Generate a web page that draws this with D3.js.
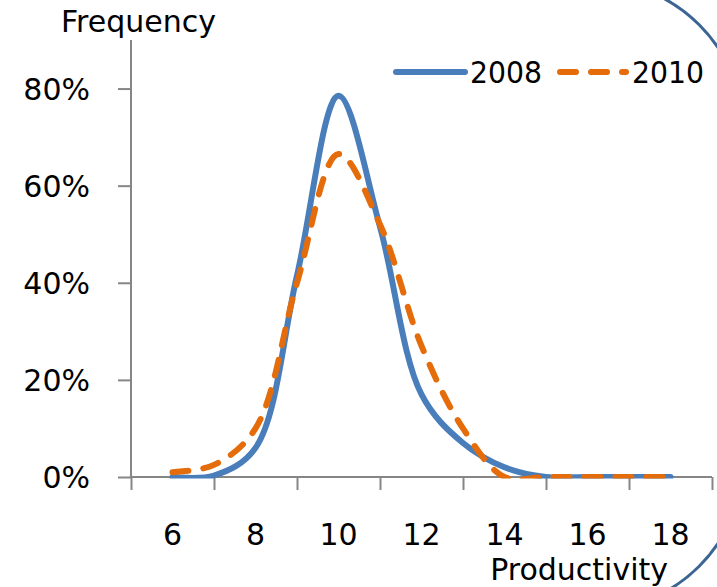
<!DOCTYPE html>
<html><head><meta charset="utf-8">
<script src="https://cdn.jsdelivr.net/npm/d3@7"></script>
<style>
html,body{margin:0;padding:0;background:#fff;}
svg{display:block;}
text{font-family:"DejaVu Sans",sans-serif;fill:#000;}
</style></head>
<body>
<script>
// ---- data ----
const productivity = [6,7,8,9,10,11,12,13,14,15,16,17,18];
const freq2008 = [0, 0.3, 6, 41.5, 78.5, 51.5, 17, 7, 2, 0, 0, 0, 0];
const freq2010 = [1, 2.5, 10, 40, 66.5, 52, 27, 10, 0, 0, 0, 0, 0];
const seriesNames = ["2008", "2010"];
const xTickLabels = [6, 8, 10, 12, 14, 16, 18];
const yTickValues = [0, 20, 40, 60, 80];

const W = 717, H = 587;
const svg = d3.select("body").append("svg").attr("width", W).attr("height", H);

const x = d3.scaleLinear().domain([5, 19]).range([131, 712]);
const y = d3.scaleLinear().domain([0, 90]).range([477, 40]);

const axisColor = "#868686";
const blue = "#4a7ebb", orange = "#e46c0a";
const FONT = "'DejaVu Sans',sans-serif";

// decorative frame
svg.append("rect").attr("x", -300).attr("y", -20).attr("width", 1044).attr("height", 631)
  .attr("rx", 153).attr("ry", 153).attr("fill", "none").attr("stroke", "#3c6594").attr("stroke-width", 3);

// clip for plot area (lines dipping below zero are cut, as in the original)
svg.append("clipPath").attr("id", "plotclip").append("rect")
  .attr("x", x(5) - 10).attr("y", y(90) - 10).attr("width", x(19) - x(5) + 20).attr("height", y(0) - y(90) + 11.5);

// y axis
const yAxis = d3.axisLeft(y).tickValues(yTickValues).tickSize(13).tickFormat(d => d + "%");
const gy = svg.append("g").attr("transform", "translate(131,0)").call(yAxis);
gy.select(".domain").attr("stroke", axisColor).attr("stroke-width", 2).attr("d", `M0,${y(90)}V${y(0)}`);
gy.selectAll(".tick line").attr("stroke", axisColor).attr("stroke-width", 2);
gy.selectAll(".tick text").attr("x", -41).attr("dy", "0.35em").attr("font-size", 30)
  .attr("font-family", FONT).attr("fill", "#000");

// x axis (ticks between categories)
const oddTicks = d3.range(5, 20, 2);
const xAxis = d3.axisBottom(x).tickValues(oddTicks).tickSize(13).tickFormat("");
const gx = svg.append("g").attr("transform", `translate(0,${y(0)})`).call(xAxis);
gx.select(".domain").attr("stroke", axisColor).attr("stroke-width", 2).attr("d", `M${x(5)},0H${x(19)}`);
gx.selectAll(".tick line").attr("stroke", axisColor).attr("stroke-width", 2);
svg.append("g").selectAll("text").data(xTickLabels).join("text")
  .attr("x", d => x(d)).attr("y", 534).attr("dy", "0.35em").attr("text-anchor", "middle")
  .attr("font-size", 30).text(d => d);

// lines
const line = d3.line().x((d, i) => x(productivity[i])).y(d => y(d)).curve(d3.curveCatmullRom.alpha(0.5));
const plot = svg.append("g").attr("clip-path", "url(#plotclip)");
plot.append("path").datum(freq2008).attr("d", line).attr("fill", "none").attr("stroke", blue)
  .attr("stroke-width", 6).attr("stroke-linecap", "round").attr("stroke-linejoin", "round");
plot.append("path").datum(freq2010).attr("d", line).attr("fill", "none").attr("stroke", orange)
  .attr("stroke-width", 6).attr("stroke-linecap", "round").attr("stroke-dasharray", "16,15");

// axis titles
svg.append("text").attr("x", 61).attr("y", 21).attr("dy", "0.35em").attr("font-size", 30).text("Frequency");
svg.append("text").attr("x", 668).attr("y", 569).attr("dy", "0.35em").attr("text-anchor", "end").attr("font-size", 30).text("Productivity");

// legend
const leg = svg.append("g");
const legItems = [
  {name: seriesNames[0], color: blue, dash: null, x0: 396, x1: 465, tx: 470},
  {name: seriesNames[1], color: orange, dash: "16,15", x0: 560, x1: 626, tx: 632}
];
legItems.forEach(it => {
  leg.append("line").attr("x1", it.x0).attr("x2", it.x1).attr("y1", 72).attr("y2", 72)
    .attr("stroke", it.color).attr("stroke-width", 6).attr("stroke-linecap", "round")
    .attr("stroke-dasharray", it.dash);
  leg.append("text").attr("x", it.tx).attr("y", 72).attr("dy", "0.35em").attr("font-size", 30)
    .attr("textLength", 72).attr("lengthAdjust", "spacingAndGlyphs").text(it.name);
});
</script>
</body></html>
